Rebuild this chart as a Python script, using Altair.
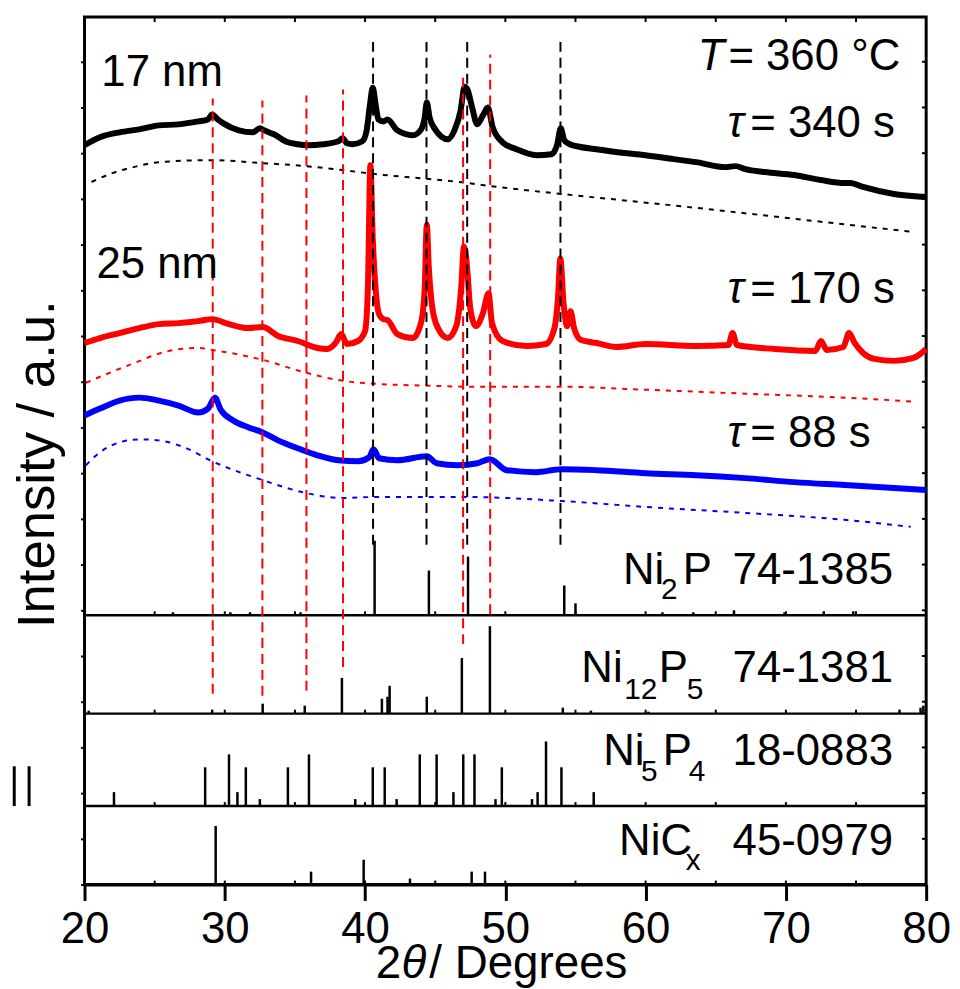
import altair as alt
import pandas as pd

FONT = "Liberation Sans"

# ---------------- measured XRD traces (2theta / deg, intensity / a.u. incl. offsets) ----------------
black_2t = [20.0, 21.1, 22.5, 23.9, 25.3, 26.7, 28.1, 28.8, 29.1, 29.5, 29.9, 31.0, 32.0, 32.5, 32.8,
            33.5, 34.5, 35.2, 35.9, 37.0, 38.1, 38.4, 38.7, 39.1, 39.8, 40.1, 40.35, 40.55, 40.75,
            40.95, 41.3, 41.6, 42.3, 43.4, 44.0, 44.25, 44.4, 44.6, 45.0, 45.9, 46.4, 46.8, 47.1,
            47.3, 47.6, 48.0, 48.4, 48.75, 49.1, 49.8, 50.8, 52.2, 53.3, 53.7, 53.95, 54.2, 54.6,
            55.1, 56.5, 58.0, 60.0, 62.0, 63.6, 65.7, 66.4, 67.1, 68.5, 70.6, 72.5, 74.2, 74.6,
            75.5, 77.7, 79.0, 80.0]
black_int = [744, 752, 757, 760, 764, 765, 768, 770, 775, 770, 766, 759, 757, 761, 759,
             755, 747, 745, 744, 745, 748, 751, 746, 745, 748, 758, 785, 802, 785,
             770, 768, 770, 759, 754, 760, 772, 787, 772, 760, 750, 760, 778, 803,
             800, 784, 765, 774, 782, 762, 747, 740, 734, 735, 745, 761, 749, 745,
             743, 740, 737, 734, 730, 727, 722, 723, 720, 717, 714, 709, 706, 706,
             702, 695, 693, 692]

red_2t = [20.0, 21.1, 22.5, 23.9, 25.3, 26.7, 28.1, 29.1, 30.3, 31.7, 32.7, 33.8, 35.2, 36.6, 37.3,
          37.9, 38.3, 38.7, 39.5, 40.0, 40.2, 40.38, 40.55, 40.75, 41.0, 41.3, 41.6, 42.3, 43.4,
          44.0, 44.25, 44.4, 44.55, 44.8, 45.2, 45.9, 46.5, 46.85, 47.05, 47.25, 47.5, 47.9, 48.4,
          48.8, 49.05, 49.8, 51.5, 52.9, 53.5, 53.75, 53.92, 54.15, 54.4, 54.65, 54.9, 55.4, 56.5,
          57.9, 60.0, 63.6, 65.9, 66.2, 66.5, 69.2, 72.1, 72.5, 72.9, 74.1, 74.5, 74.9, 75.5,
          76.3, 77.7, 79.1, 80.0]
red_int = [545, 550, 555, 560, 564, 565, 567, 569, 564, 560, 561, 552, 547, 540, 539,
           545, 554, 544, 547, 557, 600, 724, 650, 600, 574, 569, 568, 554, 550,
           566, 600, 664, 620, 580, 560, 550, 562, 600, 642, 625, 580, 562, 575,
           595, 565, 547, 542, 544, 560, 590, 630, 585, 562, 577, 560, 548, 545,
           541, 544, 542, 543, 555, 543, 539, 537, 547, 538, 541, 555, 545, 535,
           529, 527, 530, 539]

blue_2t = [20.0, 21.1, 22.5, 23.9, 25.3, 26.7, 28.1, 28.8, 29.3, 29.7, 30.6, 31.7, 32.7, 33.8,
           35.2, 36.6, 38.1, 39.5, 40.3, 40.6, 41.0, 42.3, 44.4, 45.1, 46.6, 48.0, 48.9, 50.1,
           52.2, 54.0, 56.5, 60.0, 63.6, 67.1, 70.6, 74.2, 77.7, 80.0]
blue_int = [472, 479, 487, 490, 487, 482, 475, 479, 490, 478, 467, 460, 455, 447,
            439, 432, 427, 426, 430, 438, 429, 427, 431, 424, 422, 424, 428, 417,
            415, 418, 417, 414, 412, 409, 405, 402, 399, 397]

# ---------------- fitted amorphous backgrounds (dotted) ----------------
bg_black_2t = [20.5, 22.0, 23.5, 25.3, 29.1, 32.7, 35.8, 38.4, 40.7, 44.6, 47.3, 48.9, 54.0, 63.6, 70.6, 78.9]
bg_black_int = [707, 716, 722, 727, 729, 726, 723, 719, 715, 710, 706, 703, 695, 681, 670, 657]
bg_red_2t = [20.1, 23.4, 26.0, 28.1, 29.1, 32.7, 35.8, 38.4, 40.7, 44.6, 47.3, 54.0, 60.0, 67.1, 74.2, 79.1]
bg_red_int = [505, 524, 537, 540, 538, 528, 515, 507, 504, 502, 501, 501, 498, 494, 490, 486]
bg_blue_2t = [20.1, 21.1, 22.5, 23.9, 25.3, 27.1, 29.1, 32.7, 35.8, 38.4, 40.7, 44.6, 47.3, 54.0, 60.0, 67.1, 74.2, 78.9]
bg_blue_int = [422, 435, 445, 448, 447, 440, 426, 407, 394, 389, 390, 390, 390, 386, 380, 374, 367, 360]

# ---------------- reference stick patterns (JCPDS) ----------------
ni2p_2t = [26.3, 30.4, 31.8, 35.4, 40.68, 44.55, 47.34, 54.2, 55.0, 61.2, 63.4, 66.3, 69.9, 72.7, 74.8]
ni2p_h = [3, 3, 3, 3, 75, 45, 59, 30, 12, 3, 3, 5, 3, 4, 4]
ni12p5_2t = [20.3, 29.1, 32.7, 35.7, 38.35, 41.2, 41.6, 41.75, 44.4, 46.9, 48.9, 54.1, 56.1, 60.2, 78.1, 79.6, 79.8]
ni12p5_h = [3, 4, 10, 8, 36, 15, 17, 28, 17, 56, 88, 6, 3, 2, 4, 6, 8]
ni5p4_2t = [22.1, 28.6, 30.3, 30.9, 31.5, 32.5, 34.5, 36.0, 39.3, 40.55, 41.4, 42.25, 43.9, 45.1,
            46.3, 47.0, 47.8, 49.3, 49.75, 51.9, 52.3, 52.9, 54.0, 56.3]
ni5p4_h = [14, 39, 52, 14, 39, 7, 39, 52, 7, 39, 39, 7, 52, 52, 14, 52, 52, 7, 39, 7, 14, 65, 39, 14]
nicx_2t = [29.35, 36.15, 39.9, 43.2, 47.6, 48.55]
nicx_h = [59, 13, 25, 6, 13, 13]
panel_base = {"Ni2P": 271, "Ni12P5": 172, "Ni5P4": 79, "NiCx": 0}

# ---------------- guide lines ----------------
black_ref_2t = [40.57, 44.38, 47.28, 53.93]
black_ref_top = [851, 851, 851, 851]
black_ref_bot = [342, 342, 342, 342]
red_ref_2t = [29.14, 32.68, 35.82, 38.43, 46.99, 48.92]
red_ref_top = [791, 789, 794, 800, 816, 835]
red_ref_bot = [192, 190, 195, 219, 242, 272]

x_ticks = [20, 30, 40, 50, 60, 70, 80]
minor_ticks = [25, 30, 35, 40, 45, 50, 55, 60, 65, 70, 75]
y_ticks = list(range(0, 874, 46))

# ---------------- build tables ----------------
def series(xs, ys, name):
    return pd.DataFrame({"x": xs, "y": ys, "s": name, "i": range(len(xs))})

spectra = pd.concat([series(black_2t, black_int, "k"), series(red_2t, red_int, "r"),
                     series(blue_2t, blue_int, "b")])
backgrounds = pd.concat([series(bg_black_2t, bg_black_int, "k"), series(bg_red_2t, bg_red_int, "r"),
                         series(bg_blue_2t, bg_blue_int, "b")])

rows = []
for name, xs, hs in [("Ni2P", ni2p_2t, ni2p_h), ("Ni12P5", ni12p5_2t, ni12p5_h),
                     ("Ni5P4", ni5p4_2t, ni5p4_h), ("NiCx", nicx_2t, nicx_h)]:
    b = panel_base[name]
    for x, h in zip(xs, hs):
        rows.append({"x": x, "y": b, "y2": b + h})
sticks = pd.DataFrame(rows)

seps = pd.DataFrame({"y": [panel_base["Ni2P"], panel_base["Ni12P5"], panel_base["Ni5P4"]],
                     "x": 20, "x2": 80})
mt = []
for b in [0, 79, 172, 271]:
    for t in minor_ticks:
        mt.append({"x": t, "y": b, "y2": b + 4})
for t in minor_ticks:
    mt.append({"x": t, "y": 873, "y2": 868})
minor = pd.DataFrame(mt)
right_ticks = pd.DataFrame({"x": 80, "x2": 79.7, "y": y_ticks})

kref = pd.DataFrame({"x": black_ref_2t, "y": black_ref_bot, "y2": black_ref_top})
rref = pd.DataFrame({"x": red_ref_2t, "y": red_ref_bot, "y2": red_ref_top})
brk = pd.DataFrame({"x": [14.99, 16.05], "y": [79, 79], "y2": [119, 119]})

xscale = alt.Scale(domain=[20, 80], nice=False, zero=False)
yscale = alt.Scale(domain=[0, 873], nice=False, zero=False)
xaxis = alt.Axis(values=x_ticks, tickSize=16, tickWidth=3, tickColor="black", domainWidth=3,
                 domainColor="black", labelFontSize=44, labelFont=FONT, labelColor="black",
                 labelPadding=7, grid=False, title="", labelFlush=False)
yaxis = alt.Axis(values=y_ticks, labels=False, tickSize=4, tickWidth=2, tickColor="black",
                 domain=False, grid=False, title="")

def X(f="x"):
    return alt.X(f"{f}:Q", scale=xscale, axis=xaxis)

def Y(f="y"):
    return alt.Y(f"{f}:Q", scale=yscale, axis=yaxis)

color = alt.Color("s:N", scale=alt.Scale(domain=["k", "r", "b"], range=["#000000", "#ff0000", "#0000ff"]),
                  legend=None)

layers = []
layers.append(alt.Chart(seps).mark_rule(color="black", strokeWidth=2.5).encode(x=X(), x2="x2:Q", y=Y()))
layers.append(alt.Chart(minor).mark_rule(color="black", strokeWidth=2).encode(x=X(), y=Y(), y2="y2:Q"))
layers.append(alt.Chart(right_ticks).mark_rule(color="black", strokeWidth=2).encode(x=X(), x2="x2:Q", y=Y()))
layers.append(alt.Chart(sticks).mark_rule(color="black", strokeWidth=2.5).encode(x=X(), y=Y(), y2="y2:Q"))
layers.append(alt.Chart(brk).mark_rule(color="black", strokeWidth=3).encode(x=X(), y=Y(), y2="y2:Q"))
layers.append(alt.Chart(backgrounds).mark_line(strokeWidth=2, strokeDash=[5, 6], interpolate="monotone")
              .encode(x=X(), y=Y(), color=color, detail="s:N", order="i:Q"))
layers.append(alt.Chart(spectra).mark_line(strokeWidth=6, interpolate="monotone")
              .encode(x=X(), y=Y(), color=color, detail="s:N", order="i:Q"))
layers.append(alt.Chart(kref).mark_rule(color="black", strokeWidth=2, strokeDash=[10, 6])
              .encode(x=X(), y=Y(), y2="y2:Q"))
layers.append(alt.Chart(rref).mark_rule(color="#ff0000", strokeWidth=2, strokeDash=[10, 6])
              .encode(x=X(), y=Y(), y2="y2:Q"))

def texts(items, size, style="normal", align="left", angle=0):
    df = pd.DataFrame(items, columns=["x", "y", "t"])
    m = alt.Chart(df).mark_text(font=FONT, fontSize=size, fontStyle=style, align=align,
                                baseline="alphabetic", color="black", angle=angle)
    return m.encode(x=X(), y=Y(), text="t:N")

layers.append(texts([
    (21.20, 804, "17 nm"), (20.85, 610, "25 nm"),
    (65.90, 820, "= 360 °C"),
    (67.46, 752, "= 340 s"), (67.46, 585, "= 170 s"), (67.46, 440, "= 88 s"),
    (58.39, 302, "Ni"), (62.64, 302, "P"), (66.2, 302, "74-1385"),
    (55.42, 204, "Ni"), (60.94, 204, "P"), (66.2, 204, "74-1381"),
    (56.98, 120, "Ni"), (61.23, 120, "P"), (66.2, 120, "18-0883"),
    (58.11, 30, "NiC"), (66.2, 30, "45-0979"),
], 44))
layers.append(texts([
    (63.71, 820, "T"), (65.83, 752, "τ"), (65.83, 585, "τ"), (65.83, 440, "τ"),
], 44, style="italic"))
layers.append(texts([
    (61.09, 287, "2"), (58.47, 187, "12"), (62.93, 187, "5"),
    (59.67, 104, "5"), (63.07, 104, "4"), (62.86, 15, "x"),
], 30))
layers.append(texts([(40.76, -94, "2"), (44.58, -94, "/ Degrees")], 46))
layers.append(texts([(42.60, -94, "θ")], 46, style="italic"))
layers.append(texts([(17.80, 423, "Intensity / a.u.")], 53, align="center", angle=270))

chart = alt.layer(*layers).properties(
    width=847, height=873,
    padding={"left": 77, "top": 6, "right": 26, "bottom": 102},
    autosize=alt.AutoSizeParams(type="none"),
).configure_view(stroke="black", strokeWidth=3)

chart.save("out.html", embed_options={"renderer": "svg", "actions": False})
